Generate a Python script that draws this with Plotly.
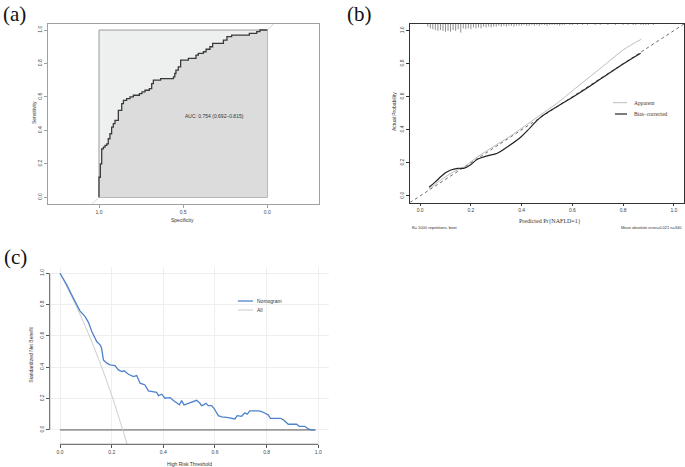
import plotly.graph_objects as go

W, H = 685, 467
SANS = "Liberation Sans, Arial, sans-serif"
SERIF = "Liberation Serif, Times New Roman, serif"

# ---------------- (a) ROC curve data ----------------
roc_specificity = [1.0, 1.0, 0.992, 0.984, 0.974, 0.964, 0.954, 0.945, 0.935, 0.925, 0.915, 0.905,
                   0.885, 0.865, 0.855, 0.836, 0.816, 0.796, 0.76, 0.745, 0.727, 0.701, 0.687, 0.677,
                   0.634, 0.558, 0.55, 0.543, 0.529, 0.515, 0.469, 0.424, 0.41, 0.38, 0.364, 0.341,
                   0.325, 0.261, 0.24, 0.212, 0.107, 0.063, 0.044, 0.0]
roc_sensitivity = [0.0, 0.12, 0.20, 0.29, 0.30, 0.31, 0.32, 0.35, 0.38, 0.42, 0.44, 0.46,
                   0.52, 0.56, 0.58, 0.59, 0.60, 0.61, 0.62, 0.63, 0.64, 0.65, 0.68, 0.70,
                   0.71, 0.72, 0.74, 0.76, 0.78, 0.82, 0.83, 0.85, 0.86, 0.87, 0.885, 0.90,
                   0.92, 0.94, 0.96, 0.97, 0.98, 0.99, 1.0, 1.0]
auc_label = "AUC: 0.754 (0.692–0.815)"
roc_ticks = [1.0, 0.5, 0.0]
roc_ticktext = ["1.0", "0.5", "0.0"]
unit_ticks = [0.0, 0.2, 0.4, 0.6, 0.8, 1.0]
unit_ticktext = ["0.0", "0.2", "0.4", "0.6", "0.8", "1.0"]

# ---------------- (b) calibration data ----------------
cal_pred_bias = [0.035, 0.06, 0.082, 0.10, 0.121, 0.148, 0.174, 0.20, 0.226, 0.265, 0.304, 0.343,
                 0.396, 0.435, 0.474, 0.539, 0.604, 0.67, 0.735, 0.80, 0.869]
cal_obs_bias = [0.052, 0.085, 0.117, 0.14, 0.157, 0.167, 0.168, 0.19, 0.222, 0.242, 0.258, 0.296,
                0.355, 0.415, 0.475, 0.54, 0.60, 0.665, 0.732, 0.798, 0.863]
cal_pred_app = [0.035, 0.082, 0.134, 0.174, 0.213, 0.278, 0.343, 0.409, 0.474, 0.539, 0.604, 0.67,
                0.735, 0.80, 0.872]
cal_obs_app = [0.04, 0.097, 0.147, 0.177, 0.222, 0.288, 0.349, 0.419, 0.49, 0.56, 0.641, 0.722,
               0.802, 0.883, 0.948]
rug_pred = [round(0.03 + 0.01 * i, 2) for i in range(90)]
rug_count = [3, 5, 6, 7, 8, 7, 8, 9, 8, 9, 7, 8, 6, 10, 5, 6, 5, 6, 4, 5, 4, 5, 3, 4, 3, 4, 3, 3,
             2, 3, 2, 3, 2, 2, 3, 2, 2, 2, 1, 2, 2, 1, 2, 1, 2, 1, 1, 2, 1, 1, 1, 1, 2, 1, 1, 0,
             1, 1, 0, 1, 0, 1, 0, 1, 0, 0, 1, 0, 1, 0, 0, 1, 0, 0, 1, 0, 0, 1, 0, 1, 0, 1, 1, 0,
             1, 1, 1, 1, 0, 1]

# ---------------- (c) decision curve data ----------------
dca_threshold = [0, 0.026, 0.045, 0.065, 0.077, 0.097, 0.11, 0.123, 0.142, 0.155, 0.161, 0.168,
                 0.181, 0.194, 0.213, 0.226, 0.239, 0.248, 0.265, 0.284, 0.297, 0.31, 0.32, 0.329,
                 0.342, 0.361, 0.374, 0.381, 0.394, 0.406, 0.426, 0.439, 0.452, 0.462, 0.471, 0.48,
                 0.497, 0.516, 0.529, 0.542, 0.548, 0.557, 0.565, 0.574, 0.587, 0.596, 0.613, 0.626,
                 0.652, 0.677, 0.686, 0.703, 0.716, 0.725, 0.735, 0.768, 0.781, 0.794, 0.806, 0.815,
                 0.854, 0.865, 0.884, 0.916, 0.926, 0.948, 0.961, 0.974, 0.987]
dca_nomogram = [1.0, 0.926, 0.862, 0.798, 0.76, 0.723, 0.687, 0.628, 0.564, 0.543, 0.521, 0.447,
                0.426, 0.415, 0.411, 0.383, 0.372, 0.377, 0.355, 0.34, 0.347, 0.298, 0.291, 0.287,
                0.249, 0.245, 0.24, 0.219, 0.228, 0.202, 0.206, 0.187, 0.174, 0.16, 0.187, 0.16,
                0.17, 0.181, 0.189, 0.17, 0.155, 0.16, 0.17, 0.155, 0.155, 0.138, 0.091, 0.083,
                0.079, 0.07, 0.091, 0.087, 0.109, 0.1, 0.121, 0.121, 0.117, 0.106, 0.096, 0.074,
                0.074, 0.064, 0.036, 0.036, 0.023, 0.023, 0.006, 0.0, 0.0]
all_threshold = [0.0, 0.05, 0.1, 0.15, 0.2, 0.243, 0.26]
all_benefit = [1.0, 0.836, 0.654, 0.45, 0.221, 0.0, -0.095]
none_threshold = [0.0, 0.99]
none_benefit = [0.0, 0.0]


def xd(l, r):
    return [l / W, r / W]


def yd(t, b):
    return [1 - b / H, 1 - t / H]


fig = go.Figure()

# ---- panel (a) ----
fig.add_trace(go.Scatter(x=[1.06, -0.06], y=[-0.06, 1.06], mode="lines",
                         line=dict(color="#c8c8c8", width=0.8), xaxis="x", yaxis="y",
                         hoverinfo="skip"))
fig.add_trace(go.Scatter(x=roc_specificity, y=roc_sensitivity, mode="lines", line_shape="hv",
                         fill="tozeroy", fillcolor="#dcdcdc",
                         line=dict(color="#3a3a3a", width=1.3), xaxis="x", yaxis="y"))

# ---- panel (b) ----
rx, ry = [], []
for p, n in zip(rug_pred, rug_count):
    if n > 0:
        rx += [p, p, None]
        ry += [1.04, 1.04 - 0.0052 * n, None]
fig.add_trace(go.Scatter(x=rx, y=ry, mode="lines", line=dict(color="#444", width=0.6),
                         xaxis="x2", yaxis="y2", hoverinfo="skip"))
fig.add_trace(go.Scatter(x=[-0.04, 1.04], y=[-0.04, 1.04], mode="lines",
                         line=dict(color="#444", width=0.8, dash="dot"), xaxis="x2", yaxis="y2"))
fig.add_trace(go.Scatter(x=cal_pred_app, y=cal_obs_app, mode="lines", line_shape="spline",
                         line=dict(color="#bdbdbd", width=1.0), xaxis="x2", yaxis="y2"))
fig.add_trace(go.Scatter(x=cal_pred_bias, y=cal_obs_bias, mode="lines", line_shape="spline",
                         line=dict(color="#222", width=1.2), xaxis="x2", yaxis="y2"))

# ---- panel (c) ----
fig.add_trace(go.Scatter(x=none_threshold, y=none_benefit, mode="lines",
                         line=dict(color="#9a9a9a", width=1.8), xaxis="x3", yaxis="y3"))
fig.add_trace(go.Scatter(x=all_threshold, y=all_benefit, mode="lines", line_shape="spline",
                         line=dict(color="#cccccc", width=1.0), xaxis="x3", yaxis="y3"))
fig.add_trace(go.Scatter(x=dca_threshold, y=dca_nomogram, mode="lines",
                         line=dict(color="#4f82cc", width=1.3), xaxis="x3", yaxis="y3"))

tickfont = dict(family=SANS, size=5, color="#444")
common = dict(ticks="outside", ticklen=3, tickwidth=0.7, zeroline=False, tickfont=tickfont)

fig.update_layout(
    width=W, height=H, margin=dict(l=0, r=0, t=0, b=0),
    paper_bgcolor="white", plot_bgcolor="white", showlegend=False,
    xaxis=dict(domain=xd(48, 318.5), range=[1.303, -0.304], anchor="y",
               tickvals=roc_ticks, ticktext=roc_ticktext, showgrid=False,
               showline=True, mirror=True, linecolor="#a0a0a0", linewidth=0.9,
               tickcolor="#a0a0a0", **common),
    yaxis=dict(domain=yd(24, 204), range=[-0.04, 1.036], anchor="x",
               tickvals=unit_ticks, ticktext=unit_ticktext, tickangle=-90, showgrid=False,
               showline=True, mirror=True, linecolor="#a0a0a0", linewidth=0.9,
               tickcolor="#a0a0a0", **common),
    xaxis2=dict(domain=xd(410, 684), range=[-0.04, 1.04], anchor="y2",
                tickvals=unit_ticks, ticktext=unit_ticktext, showgrid=False,
                showline=True, mirror=True, linecolor="#333", linewidth=0.8,
                tickcolor="#333", **common),
    yaxis2=dict(domain=yd(24, 202.5), range=[-0.04, 1.04], anchor="x2",
                tickvals=unit_ticks, ticktext=unit_ticktext, tickangle=-90, showgrid=False,
                showline=True, mirror=True, linecolor="#333", linewidth=0.8,
                tickcolor="#333", **common),
    xaxis3=dict(domain=xd(49.7, 328.6), range=[-0.04, 1.04], anchor="y3",
                tickvals=unit_ticks, ticktext=unit_ticktext, showgrid=True,
                gridcolor="#efefef", gridwidth=1, showline=False, tickcolor="#555", **common),
    yaxis3=dict(domain=yd(266.7, 444.3), range=[-0.092, 1.042], anchor="x3",
                tickvals=unit_ticks, ticktext=unit_ticktext, tickangle=-90, showgrid=True,
                gridcolor="#efefef", gridwidth=1, showline=False, tickcolor="#555", **common),
)

shapes = [
    # max AUC square (a)
    dict(type="rect", xref="x", yref="y", x0=1, x1=0, y0=0, y1=1, layer="below",
         fillcolor="#eef0f0", line=dict(color="#9a9a9a", width=1)),
    # axis lines (c)
    dict(type="line", xref="x3", yref="y3 domain", x0=0, x1=1, y0=0, y1=0,
         line=dict(color="#555", width=1)),
    dict(type="line", xref="x3 domain", yref="y3", x0=0, x1=0, y0=0, y1=1,
         line=dict(color="#555", width=1)),
]


def pline(x0, x1, y, color, width):
    return dict(type="line", xref="paper", yref="paper", x0=x0 / W, x1=x1 / W,
                y0=1 - y / H, y1=1 - y / H, line=dict(color=color, width=width))


shapes += [
    pline(613, 627, 102.7, "#bdbdbd", 1.0),
    pline(615, 627, 114, "#222", 1.2),
    pline(238, 253, 301, "#4f82cc", 1.3),
    pline(238, 253, 310, "#cccccc", 1.0),
]
fig.update_layout(shapes=shapes)

annotations = []


def ann(text, x, y, size, family=SANS, angle=0, xanchor="center", color="#333",
        yanchor="middle"):
    annotations.append(dict(text=text, x=x / W, y=1 - y / H, xref="paper", yref="paper",
                            showarrow=False, xanchor=xanchor, yanchor=yanchor,
                            textangle=angle, font=dict(family=family, size=size, color=color)))


# panel labels
ann("(a)", 1, 0, 21, SERIF, xanchor="left", color="#111", yanchor="top")
ann("(b)", 345, 0, 21, SERIF, xanchor="left", color="#111", yanchor="top")
ann("(c)", 2, 243, 21, SERIF, xanchor="left", color="#111", yanchor="top")
# (a)
ann("Sensitivity", 34, 113, 5, angle=-90)
ann("Specificity", 183, 220, 5)
annotations.append(dict(text=auc_label, x=0.5, y=0.485, xref="x", yref="y", showarrow=False,
                        xanchor="left", yanchor="middle",
                        font=dict(family=SANS, size=5, color="#333")))
# (b)
ann("Actual Probability", 394, 112, 5, angle=-90)
ann("Predicted Pr{NAFLD=1}", 550, 221, 6, SERIF)
ann("B= 1000 repetitions, boot", 410, 227, 4, xanchor="left")
ann("Mean absolute error=0.021 n=340", 684, 227, 4, xanchor="right")
ann("Apparent", 632, 102.7, 5.5, SERIF, xanchor="left")
ann("Bias−corrected", 632, 114, 5.5, SERIF, xanchor="left")
# (c)
ann("Standardized Net Benefit", 30.7, 355, 5, angle=-90)
ann("High Risk Threshold", 189, 464, 5)
ann("Nomogram", 255, 301, 5, xanchor="left")
ann("All", 255, 310, 5, xanchor="left")

fig.update_layout(annotations=annotations)
fig.write_html("out.html", config={"displayModeBar": False},
               post_script="document.body.style.margin='0';document.body.style.padding='0';")
